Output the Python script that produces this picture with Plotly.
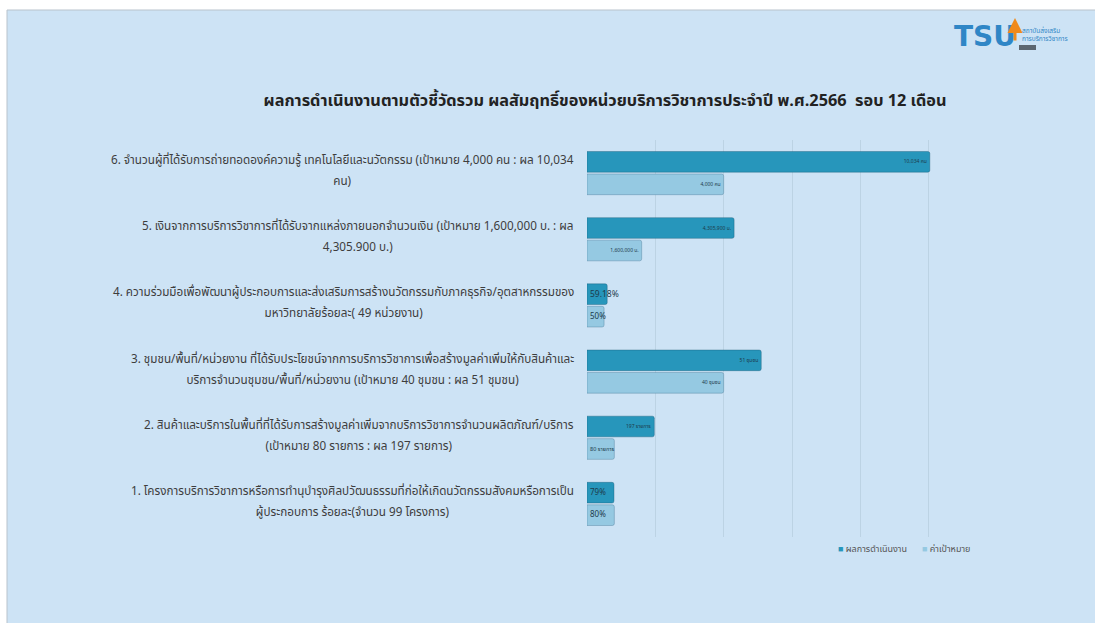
import plotly.graph_objects as go

# ---------------- data ----------------
categories = ["ตัวชี้วัด 6", "ตัวชี้วัด 5", "ตัวชี้วัด 4", "ตัวชี้วัด 3", "ตัวชี้วัด 2", "ตัวชี้วัด 1"]  # top to bottom
label_line1 = [
    "6. จำนวนผู้ที่ได้รับการถ่ายทอดองค์ความรู้ เทคโนโลยีและนวัตกรรม (เป้าหมาย 4,000 คน : ผล 10,034",
    "5. เงินจากการบริการวิชาการที่ได้รับจากแหล่งภายนอกจำนวนเงิน (เป้าหมาย 1,600,000 บ. : ผล",
    "4. ความร่วมมือเพื่อพัฒนาผู้ประกอบการและส่งเสริมการสร้างนวัตกรรมกับภาคธุรกิจ/อุตสาหกรรมของ",
    "3. ชุมชน/พื้นที่/หน่วยงาน ที่ได้รับประโยชน์จากการบริการวิชาการเพื่อสร้างมูลค่าเพิ่มให้กับสินค้าและ",
    "2. สินค้าและบริการในพื้นที่ที่ได้รับการสร้างมูลค่าเพิ่มจากบริการวิชาการจำนวนผลิตภัณฑ์/บริการ",
    "1. โครงการบริการวิชาการหรือการทำนุบำรุงศิลปวัฒนธรรมที่ก่อให้เกิดนวัตกรรมสังคมหรือการเป็น",
]
label_line2 = [
    "คน)",
    "4,305.900 บ.)",
    "มหาวิทยาลัยร้อยละ( 49 หน่วยงาน)",
    "บริการจำนวนชุมชน/พื้นที่/หน่วยงาน (เป้าหมาย 40 ชุมชน : ผล 51 ชุมชน)",
    "(เป้าหมาย 80 รายการ : ผล 197 รายการ)",
    "ผู้ประกอบการ ร้อยละ(จำนวน 99 โครงการ)",
]
# values as plotted on the chart's (rescaled) axis
result_values = [10034, 4305.9, 591.8, 5100, 1970, 790]
target_values = [4000, 1600, 500, 4000, 800, 800]
result_text = ["10,034 คน", "4,305,900 บ.", "59.18%", "51 ชุมชน", "197 รายการ", "79%"]
target_text = ["4,000 คน", "1,600,000 บ.", "50%", "40 ชุมชน", "80 รายการ", "80%"]
result_text_size = [5, 5, 8.5, 5, 5, 8]
target_text_size = [5, 5, 8, 5, 5.5, 8]
series_names = ["ผลการดำเนินงาน", "ค่าเป้าหมาย"]
title_text = "ผลการดำเนินงานตามตัวชี้วัดรวม ผลสัมฤทธิ์ของหน่วยบริการวิชาการประจำปี พ.ศ.2566  รอบ 12 เดือน"
x_ticks = [0, 2000, 4000, 6000, 8000, 10000, 12000]

# ---------------- layout geometry ----------------
FW, FH = 1095, 623
L, R, T, B = 587, 997, 140, 537
W, H = R - L, B - T


def px(x):
    return (x - L) / W


def py(y):
    return (B - y) / H


FONT = "Noto Sans Thai, Tahoma, Leelawadee, sans-serif"
BG = "#cde3f5"
DARK = "#2796bb"
LIGHT = "#95c9e2"
TXT = "#1d3c4c"
SHORT_BAR = 1000  # bars shorter than this start their label at the bar base

fig = go.Figure()
series = [
    ("result", result_values, result_text, result_text_size, DARK, "rgba(20,80,110,0.35)"),
    ("target", target_values, target_text, target_text_size, LIGHT, "rgba(60,110,140,0.35)"),
]
for group, vals, txt, sizes, color, lc in series:
    for anchor, keep in [("end", lambda v: v >= SHORT_BAR), ("start", lambda v: v < SHORT_BAR)]:
        idx = [i for i, v in enumerate(vals) if keep(v)]
        fig.add_trace(go.Bar(
            y=[categories[i] for i in idx], x=[vals[i] for i in idx],
            orientation="h", showlegend=False, offsetgroup=group,
            marker=dict(color=color, line=dict(color=lc, width=1), cornerradius=2),
            text=[txt[i] for i in idx], textposition="inside",
            insidetextanchor=anchor, textangle=0, constraintext="none",
            textfont=dict(size=[sizes[i] for i in idx], color=TXT, family=FONT),
            hoverinfo="skip",
        ))

# legend entries (small square glyph + name), one legend box each
legend_x = [798, 882]
for k, (name, color) in enumerate(zip(series_names, [DARK, LIGHT])):
    fig.add_trace(go.Scatter(
        x=[None], y=[None], mode="markers",
        marker=dict(color="rgba(0,0,0,0)", size=0, line=dict(width=0)),
        name="<span style='color:%s'>■</span> %s" % (color, name), showlegend=True,
        legend="legend" if k == 0 else "legend2",
        hoverinfo="skip",
    ))

shapes = [
    dict(type="rect", xref="paper", yref="paper", x0=px(7), x1=px(FW + 2),
         y0=py(FH + 2), y1=py(10), fillcolor=BG,
         line=dict(color="#b9c3cc", width=1), layer="below"),
    # logo pill
    dict(type="rect", xref="paper", yref="paper", x0=px(1019), x1=px(1036),
         y0=py(50), y1=py(45), fillcolor="#5c6670", line=dict(width=0), layer="above"),
]

annotations = []
LABEL_X = px(576)
LFS = 11.7
for cat, l1, l2 in zip(categories, label_line1, label_line2):
    span = "<span style='font-size:%spx'>%%s</span>" % LFS
    annotations.append(dict(
        xref="paper", yref="y", x=LABEL_X, y=cat, xanchor="right", yanchor="middle",
        text=(span % l1) + "<br>" + (span % l2),
        showarrow=False, yshift=2, align="center",
        font=dict(family=FONT, size=16.5, color="#3d3d3d"),
    ))

# logo
annotations.append(dict(
    xref="paper", yref="paper", x=px(985), y=py(36), xanchor="center", yanchor="middle",
    text="<b>TSU</b>", showarrow=False,
    font=dict(family="DejaVu Sans, sans-serif", size=28, color="#2f86c6"),
))
annotations.append(dict(
    xref="paper", yref="paper", x=px(1015), y=py(18), ax=0, ay=24,
    text="", showarrow=True,
    arrowhead=2, arrowsize=1.0, arrowwidth=3, arrowcolor="#f08a1c",
))
annotations.append(dict(
    xref="paper", yref="paper", x=px(1020), y=py(35), xanchor="left", yanchor="middle",
    text="สถาบันส่งเสริม<br>การบริการวิชาการ", showarrow=False, align="left",
    font=dict(family=FONT, size=6.5, color="#2f86c6"),
))

legend_style = dict(orientation="h", y=py(548), xanchor="left", yanchor="middle",
                    font=dict(family=FONT, size=9, color="#555555"),
                    bgcolor="rgba(0,0,0,0)", itemwidth=30)

fig.update_layout(
    width=FW, height=FH,
    margin=dict(l=L, r=FW - R, t=T, b=FH - B, autoexpand=False),
    paper_bgcolor="white", plot_bgcolor="rgba(0,0,0,0)",
    barmode="group", bargap=0.32, bargroupgap=0.08,
    title=dict(text="<b>" + title_text + "</b>", x=605 / FW, y=1 - 100 / FH,
               xref="container", yref="container", xanchor="center", yanchor="middle",
               font=dict(family=FONT, size=16.3, color="#222222")),
    xaxis=dict(range=[0, x_ticks[-1]], tickvals=x_ticks, showticklabels=False,
               showgrid=True, gridcolor="rgba(175,198,214,0.55)", gridwidth=1,
               zeroline=False, showline=False, fixedrange=True),
    yaxis=dict(categoryorder="array", categoryarray=categories, autorange="reversed",
               showticklabels=False, showgrid=False, zeroline=False, showline=False,
               fixedrange=True),
    legend=dict(x=px(legend_x[0]), **legend_style),
    legend2=dict(x=px(legend_x[1]), **legend_style),
    shapes=shapes, annotations=annotations,
    font=dict(family=FONT),
)
fig.write_html("out.html", config={"displayModeBar": False},
               post_script="document.body.style.margin='0px';")
